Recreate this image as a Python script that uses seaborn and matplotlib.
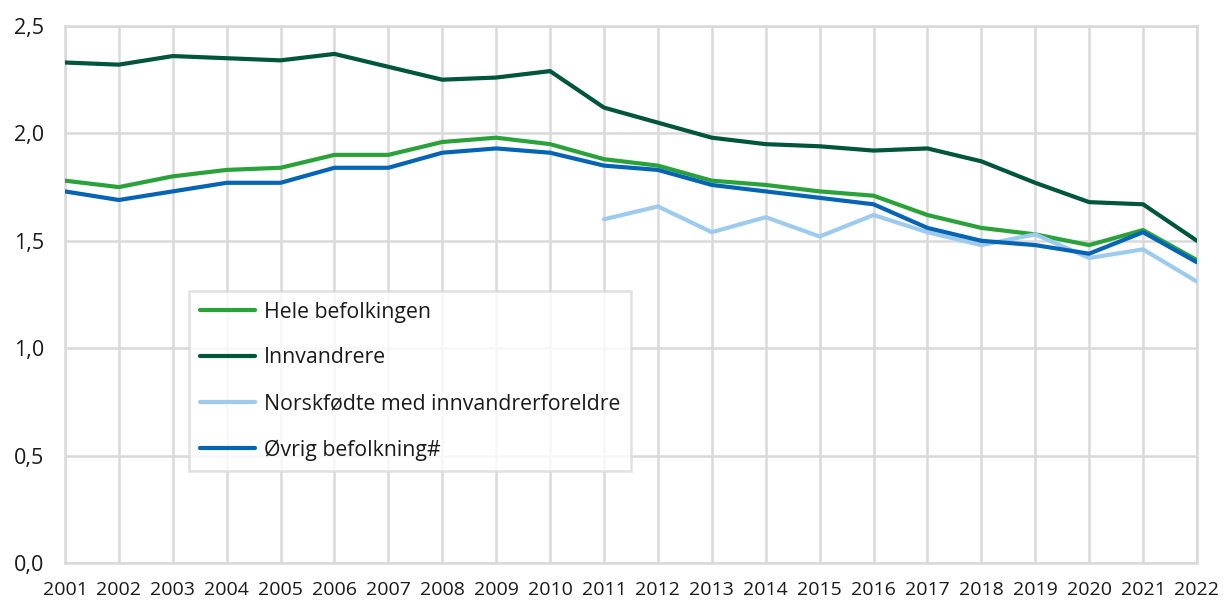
import numpy as np
import pandas as pd
import seaborn as sns
import matplotlib
matplotlib.use("Agg")
import matplotlib.pyplot as plt
from matplotlib.ticker import FuncFormatter

years = list(range(2001, 2023))
hele = [1.78, 1.75, 1.80, 1.83, 1.84, 1.90, 1.90, 1.96, 1.98, 1.95, 1.88,
        1.85, 1.78, 1.76, 1.73, 1.71, 1.62, 1.56, 1.53, 1.48, 1.55, 1.41]
innvandrere = [2.33, 2.32, 2.36, 2.35, 2.34, 2.37, 2.31, 2.25, 2.26, 2.29, 2.12,
               2.05, 1.98, 1.95, 1.94, 1.92, 1.93, 1.87, 1.77, 1.68, 1.67, 1.50]
norskfodte = [np.nan] * 10 + [1.60, 1.66, 1.54, 1.61, 1.52, 1.62, 1.54, 1.48,
                               1.53, 1.42, 1.46, 1.31]
ovrig = [1.73, 1.69, 1.73, 1.77, 1.77, 1.84, 1.84, 1.91, 1.93, 1.91, 1.85,
         1.83, 1.76, 1.73, 1.70, 1.67, 1.56, 1.50, 1.48, 1.44, 1.54, 1.40]

series_names = ["Hele befolkingen", "Innvandrere",
                "Norskfødte med innvandrerforeldre", "Øvrig befolkning#"]
colors = ["#2aa23a", "#00553d", "#9dcbee", "#0565b4"]

df = pd.DataFrame({
    "year": years * 4,
    "value": hele + innvandrere + norskfodte + ovrig,
    "series": sum([[n] * len(years) for n in series_names], []),
})

sns.set_theme(style="white")
plt.rcParams["font.family"] = ["Open Sans", "DejaVu Sans"]

fig = plt.figure(figsize=(12.23, 6.03), dpi=100)
ax = fig.add_axes([0.0531, 0.0663, 0.9256, 0.8906])

sns.lineplot(data=df, x="year", y="value", hue="series",
             hue_order=series_names, palette=dict(zip(series_names, colors)),
             linewidth=3.0, ax=ax, zorder=3)

ax.set_xlim(2001, 2022)
ax.set_ylim(0, 2.5)
ax.set_xticks(years)
ax.set_yticks([0, 0.5, 1.0, 1.5, 2.0, 2.5])
ax.yaxis.set_major_formatter(FuncFormatter(lambda v, p: f"{v:.1f}".replace(".", ",")))
ax.set_xlabel("")
ax.set_ylabel("")
ax.grid(True, color="#d9d9d9", linewidth=1.8, zorder=0)
ax.set_axisbelow(True)
for s in ax.spines.values():
    s.set_color("#d9d9d9")
    s.set_linewidth(1.8)
ax.tick_params(axis="both", length=0, colors="#1a1a1a")
ax.tick_params(axis="x", pad=13, labelsize=14)
ax.tick_params(axis="y", pad=15, labelsize=15.5)

leg = ax.legend(loc="lower left", bbox_to_anchor=(0.110, 0.171),
                fontsize=15.3, frameon=True, fancybox=False,
                handlelength=2.6, handletextpad=0.4, labelspacing=1.17,
                borderpad=0.5, borderaxespad=0)
leg.get_frame().set_edgecolor("#d9d9d9")
leg.get_frame().set_linewidth(1.8)
for line in leg.get_lines():
    line.set_linewidth(3.0)
for t in leg.get_texts():
    t.set_color("#1a1a1a")

fig.savefig("out.png", dpi=100)
